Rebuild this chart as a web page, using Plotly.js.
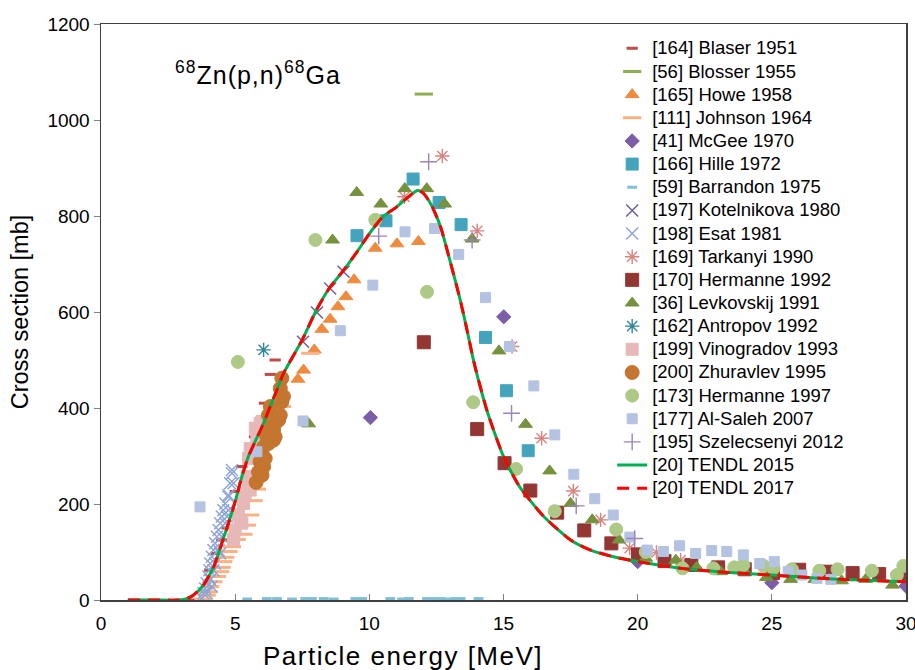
<!DOCTYPE html>
<html><head><meta charset="utf-8">
<script src="https://cdn.plot.ly/plotly-3.0.1.min.js"></script>
<style>html,body{margin:0;padding:0;background:#fff;} #chart{width:915px;height:670px;}</style>
</head><body><div id="chart"></div>
<script>
// ---- data (MeV, mb) ----
const blaserX = [3.45, 4.05, 4.3, 4.5, 4.7, 5.0, 5.25, 5.5, 5.72, 6.09, 6.31, 6.49];
const blaserY = [0, 62, 97, 125, 150, 226, 278, 299, 340, 410, 470, 500];
const blosserX = [12.03];
const blosserY = [1054];
const howeX = [7.34, 7.55, 7.95, 8.23, 8.54, 8.83, 9.13, 9.43, 10.22, 11.03, 11.83];
const howeY = [460, 479, 521, 564, 585, 611, 632, 667, 733, 742, 747];
const johnsonX = [3.82, 3.94, 4.0, 4.07, 4.19, 4.32, 4.44, 4.5, 4.56, 4.63, 4.75, 4.88, 5.06, 5.31, 5.44, 5.56, 5.69, 5.81, 5.93, 6.74, 7.8];
const johnsonY = [2, 10, 17, 28, 38, 49, 59, 68, 80, 89, 101, 111, 126, 137, 156, 177, 207, 231, 312, 403, 514];
const mcgeeX = [10.04, 15.01, 20.0, 25.0, 30.0];
const mcgeeY = [380, 590, 80, 36, 29];
const hilleX = [9.54, 10.62, 11.63, 12.6, 13.42, 14.33, 15.11, 15.92];
const hilleY = [759, 790, 877, 828, 782, 547, 436, 311];
const barrandonX = [5.45, 6.18, 6.56, 7.12, 7.61, 7.86, 8.3, 8.67, 9.48, 9.73, 10.78, 11.22, 11.47, 12.15, 12.4, 12.65, 12.95, 13.21, 13.4, 14.07];
const barrandonY = [2, 3, 3, 2, 3, 3, 3, 2, 3, 3, 3, 2, 3, 3, 3, 3, 2, 3, 3, 3];
const kotelnikovaX = [7.53, 8.05, 8.54, 9.04];
const kotelnikovaY = [538, 599, 649, 684];
const esatX = [3.76, 3.82, 3.88, 3.94, 3.94, 4.0, 4.04, 4.07, 4.07, 4.13, 4.13, 4.19, 4.19, 4.25, 4.25, 4.32, 4.38, 4.38, 4.44, 4.44, 4.5, 4.5, 4.56, 4.63, 4.63, 4.69, 4.75, 4.75, 4.75, 4.81, 4.88, 4.94, 4.88];
const esatY = [4, 14, 24, 35, 14, 49, 62, 76, 42, 90, 28, 104, 62, 118, 76, 132, 146, 104, 160, 97, 174, 132, 187, 201, 160, 174, 219, 187, 215, 243, 264, 243, 271];
const tarkanyiX = [11.31, 12.72, 14.02, 15.32, 16.42, 17.6, 18.62, 19.7, 20.7, 21.6];
const tarkanyiY = [840, 925, 769, 528, 337, 227, 167, 108, 99, 83];
const hermanne92X = [12.03, 14.02, 15.04, 16.0, 17.0, 18.01, 19.02, 20.01, 21.0, 22.0, 23.0, 23.99, 25.04, 26.02, 27.03, 28.01, 29.0, 30.0];
const hermanne92Y = [537, 356, 285, 228, 182, 145, 118, 95, 81, 73, 68, 64, 56, 63, 59, 56, 54, 52];
const levkovskijX = [7.74, 8.63, 9.53, 10.43, 11.32, 12.14, 12.81, 13.83, 14.83, 15.82, 16.72, 17.5, 18.31, 19.31, 20.3, 21.42, 22.2, 23.1, 24.0, 24.8, 25.7, 26.6, 27.6, 28.5, 29.5];
const levkovskijY = [367, 750, 849, 825, 857, 857, 825, 752, 519, 366, 269, 201, 167, 125, 87, 83, 68, 59, 59, 47, 43, 43, 40, 43, 31];
const antropovX = [6.06];
const antropovY = [521];
const vinogradovX = [4.94, 5.0, 5.12, 5.19, 5.25, 5.31, 5.37, 5.44, 5.5, 5.5, 5.56, 5.56, 5.75, 5.81, 5.93, 6.0];
const vinogradovY = [126, 146, 177, 163, 160, 201, 222, 257, 243, 295, 229, 316, 358, 337, 368, 372];
const zhuravlevX = [5.78, 5.87, 5.93, 6.0, 6.06, 6.06, 6.12, 6.18, 6.24, 6.24, 6.24, 6.31, 6.43, 6.43, 6.49, 6.56, 6.62, 6.68, 6.68, 6.74, 6.8, 6.74];
const zhuravlevY = [245, 267, 288, 260, 278, 319, 295, 340, 326, 358, 385, 403, 333, 354, 340, 372, 375, 385, 441, 413, 424, 462];
const hermanne97X = [5.1, 7.99, 10.22, 12.15, 13.87, 15.47, 16.91, 19.2, 20.3, 21.67, 22.82, 23.6, 23.94, 24.69, 25.06, 25.75, 26.77, 27.45, 28.73, 29.66, 29.9];
const hermanne97Y = [496, 750, 792, 642, 412, 273, 185, 147, 100, 66, 66, 68, 73, 71, 66, 64, 61, 64, 61, 52, 71];
const alSalehX = [3.69, 5.81, 7.53, 8.92, 10.13, 11.33, 12.43, 13.33, 14.33, 15.22, 16.13, 16.91, 17.62, 18.4, 19.09, 19.71, 20.36, 20.96, 21.56, 22.16, 22.76, 23.32, 23.94, 24.55, 25.09, 25.61, 26.12, 26.68, 27.2];
const alSalehY = [194, 309, 373, 561, 656, 767, 774, 720, 630, 528, 446, 344, 262, 211, 177, 131, 104, 101, 113, 97, 103, 101, 94, 76, 80, 59, 52, 45, 43];
const szelecsenyiX = [10.35, 12.21, 13.83, 15.3, 17.71, 19.89];
const szelecsenyiY = [758, 913, 750, 389, 196, 128];
const tendlX = [1, 2, 2.9, 3.2, 3.44, 3.8, 4.2, 4.5, 4.75, 5.0, 5.25, 5.5, 6.0, 6.5, 6.8, 7.5, 8.0, 8.5, 9.0, 9.5, 10.0, 10.5, 11.0, 11.5, 11.8, 12.0, 12.3, 12.65, 13.0, 13.4, 13.65, 13.9, 14.4, 15.0, 15.6, 16.5, 17.5, 18.2, 19.1, 20, 21.6, 23, 25, 26.6, 28, 30];
const tendl2015Y = [0, 0, 0, 3, 10, 30, 69, 118, 160, 205, 257, 300, 361, 430, 472, 542, 601, 649, 684, 722, 763, 798, 818, 842, 853, 848, 824, 778, 708, 622, 560, 495, 392, 299, 236, 174, 125, 105, 90, 80, 66, 59, 52, 46, 42, 38];
const tendl2017Y = [0, 0, 0, 3, 10, 30, 69, 118, 160, 205, 257, 300, 361, 430, 472, 542, 601, 649, 684, 722, 763, 798, 818, 842, 853, 848, 824, 778, 708, 622, 560, 495, 392, 299, 236, 174, 125, 105, 90, 80, 66, 59, 52, 46, 42, 38];

const seriesNames = ['[164] Blaser 1951', '[56] Blosser 1955', '[165] Howe 1958', '[111] Johnson 1964', '[41] McGee 1970',
  '[166] Hille 1972', '[59] Barrandon 1975', '[197] Kotelnikova 1980', '[198] Esat 1981', '[169] Tarkanyi 1990',
  '[170] Hermanne 1992', '[36] Levkovskij 1991', '[162] Antropov 1992', '[199] Vinogradov 1993', '[200] Zhuravlev 1995',
  '[173] Hermanne 1997', '[177] Al-Saleh 2007', '[195] Szelecsenyi 2012', '[20] TENDL 2015', '[20] TENDL 2017'];
const chartTitle = '<sup>68</sup>Zn(p,n)<sup>68</sup>Ga';
const xTitle = 'Particle energy [MeV]';
const yTitle = 'Cross section [mb]';

function nm(i) { return '<span style="font-size:18.5px">' + seriesNames[i] + '</span>'; }
function pts(i, x, y, marker) {
  return {type: 'scatter', mode: 'markers', x: x, y: y, name: nm(i), marker: marker, hoverinfo: 'x+y'};
}
function dash(c, s) { return {symbol: 'line-ew', size: s, color: c, line: {color: c, width: 3}}; }
function solid(sym, c, s) { return {symbol: sym, size: s, color: c, line: {color: c, width: 1}}; }
function thin(sym, c, s) { return {symbol: sym, size: s, color: c, line: {color: c, width: 1.4}}; }

const traces = [
  pts(0, blaserX, blaserY, dash('#be4b48', 8)),
  pts(1, blosserX, blosserY, dash('#8fae52', 13)),
  pts(2, howeX, howeY, solid('triangle-up', '#ee8b3f', 12)),
  pts(3, johnsonX, johnsonY, dash('#f9b185', 13)),
  pts(4, mcgeeX, mcgeeY, solid('diamond', '#7b5ea7', 11)),
  pts(5, hilleX, hilleY, solid('square', '#44a4be', 12)),
  pts(6, barrandonX, barrandonY, dash('#7fbfd8', 7)),
  pts(7, kotelnikovaX, kotelnikovaY, thin('x-thin-open', '#6d5a94', 12)),
  pts(8, esatX, esatY, thin('x-thin-open', '#8ca4d6', 12)),
  pts(9, tarkanyiX, tarkanyiY, thin('asterisk-open', '#d88480', 12)),
  pts(10, hermanne92X, hermanne92Y, solid('square', '#943634', 13)),
  pts(11, levkovskijX, levkovskijY, solid('triangle-up', '#76923c', 12)),
  pts(12, antropovX, antropovY, thin('asterisk-open', '#31849b', 12)),
  pts(13, vinogradovX, vinogradovY, solid('square', '#e6b8b7', 12)),
  pts(14, zhuravlevX, zhuravlevY, solid('circle', '#c47530', 14)),
  pts(15, hermanne97X, hermanne97Y, solid('circle', '#adc985', 13)),
  pts(16, alSalehX, alSalehY, solid('square', '#b4c3e1', 10)),
  pts(17, szelecsenyiX, szelecsenyiY, thin('cross-thin-open', '#9b85b8', 12)),
  {type: 'scatter', mode: 'lines', x: tendlX, y: tendl2015Y, name: nm(18),
   line: {color: '#00b050', width: 3, shape: 'spline', smoothing: 0.6}},
  {type: 'scatter', mode: 'lines', x: tendlX, y: tendl2017Y, name: nm(19),
   line: {color: '#ff0000', width: 3, dash: '12px,8px', shape: 'spline', smoothing: 0.6}}
];

const layout = {
  width: 915, height: 670,
  margin: {l: 101, r: 9, t: 24, b: 70},
  paper_bgcolor: '#ffffff', plot_bgcolor: '#ffffff',
  font: {family: 'Liberation Sans, Arial, sans-serif', color: '#000000', size: 19},
  xaxis: {range: [0, 30], tick0: 0, dtick: 5, ticks: 'inside', ticklen: 6, tickcolor: '#808080',
    showline: true, linecolor: '#404040', linewidth: 1.5, mirror: true, showgrid: false, zeroline: false,
    tickfont: {size: 19}, ticklabelstandoff: 6, ticklabeloverflow: 'allow', ticklabelshift: -1.5},
  yaxis: {range: [0, 1200], tick0: 0, dtick: 200, ticks: 'outside', ticklen: 6, tickcolor: '#808080',
    showline: true, linecolor: '#404040', linewidth: 1.5, mirror: true, showgrid: false, zeroline: false,
    tickfont: {size: 19}, title: {text: yTitle, font: {size: 23.5}, standoff: 12}},
  showlegend: true,
  legend: {x: 0.635, y: 0.9865, xanchor: 'left', yanchor: 'top', bgcolor: 'rgba(0,0,0,0)',
    borderwidth: 0, font: {size: 15.5}, tracegroupgap: 0},
  annotations: [
    {text: '<span style="letter-spacing:1px">' + chartTitle + '</span>', xref: 'paper', yref: 'paper', x: 0.0895, y: 0.915,
     xanchor: 'left', yanchor: 'middle', showarrow: false, font: {size: 25}},
    {text: '<span style="letter-spacing:1.5px">' + xTitle + '</span>', xref: 'paper', yref: 'paper', x: 0.3756, y: -0.097,
     xanchor: 'center', yanchor: 'middle', showarrow: false, font: {size: 26}}
  ]
};

Plotly.newPlot('chart', traces, layout, {displayModeBar: false, staticPlot: true});
</script>
</body></html>
